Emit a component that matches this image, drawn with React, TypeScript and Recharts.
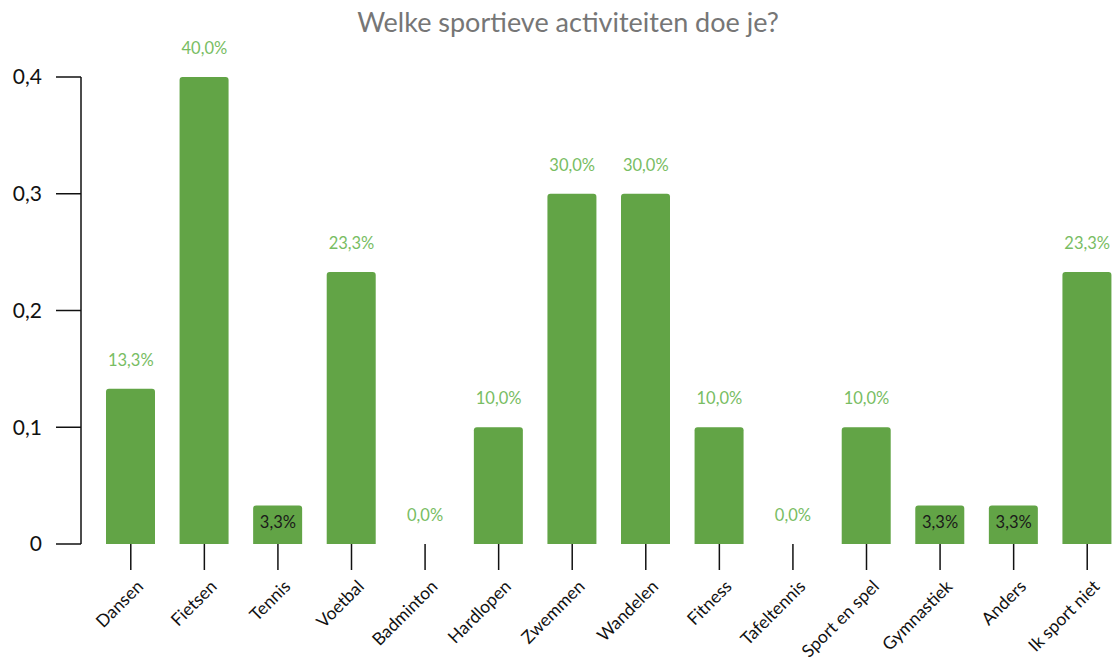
import React from "react";
import { ComposedChart, Bar, Line, XAxis, YAxis, LabelList } from "recharts";

const categories = [
  "Dansen", "Fietsen", "Tennis", "Voetbal", "Badminton", "Hardlopen", "Zwemmen",
  "Wandelen", "Fitness", "Tafeltennis", "Sport en spel", "Gymnastiek", "Anders", "Ik sport niet",
];
const values = [0.133, 0.4, 0.033, 0.233, 0, 0.1, 0.3, 0.3, 0.1, 0, 0.1, 0.033, 0.033, 0.233];
const yTicks = [0, 0.1, 0.2, 0.3, 0.4];
const title = "Welke sportieve activiteiten doe je?";

const data = categories.map((name, i) => ({ name, value: values[i] }));

const FONT = "Lato, 'Open Sans', sans-serif";
const BAR = "#62a446";
const LABEL_GREEN = "#78bd63";

const fmtPct = (v: number) => (v * 100).toFixed(1).replace(".", ",") + "%";

const ValueLabel = (props: any) => {
  const { x, y, value } = props;
  if (value > 0 && value < 0.05) {
    return (
      <text x={x} y={y + 17} textAnchor="middle" dominantBaseline="central" fill="#1a1a1a" fontSize={16.5} fontFamily={FONT}>
        {fmtPct(value)}
      </text>
    );
  }
  return (
    <text x={x} y={y - 29} textAnchor="middle" dominantBaseline="central" fill={LABEL_GREEN} fontSize={16.5} fontFamily={FONT}>
      {fmtPct(value)}
    </text>
  );
};

const XTick = (props: any) => {
  const { x, y, payload } = props;
  return (
    <g transform={`translate(${x + 9},${y + 11})`}>
      <text x={0} y={0} textAnchor="end" dominantBaseline="central" transform="rotate(-45)" fill="#111" fontSize={17.5} fontFamily={FONT}>
        {payload.value}
      </text>
    </g>
  );
};

export default function App() {
  return (
    <div style={{ position: "absolute", left: 0, top: 0, width: 1118, height: 664, overflow: "hidden", background: "#fff" }}>
      <div
        style={{
          position: "absolute",
          left: 0,
          top: 6,
          width: 1136,
          textAlign: "center",
          fontFamily: FONT,
          fontSize: 27,
          color: "#767676",
          lineHeight: "32px",
        }}
      >
        {title}
      </div>
      <ComposedChart width={1130} height={664} data={data} margin={{ top: 77, right: 6, bottom: 0, left: 0 }}>
        <YAxis
          domain={[0, 0.4]}
          ticks={yTicks}
          width={81}
          tickSize={25}
          tickMargin={14}
          stroke="#111"
          strokeWidth={1.5}
          tick={{ fill: "#111", fontSize: 21, fontFamily: FONT }}
          tickFormatter={(v: number) => String(v).replace(".", ",")}
        />
        <XAxis
          dataKey="name"
          interval={0}
          height={120}
          axisLine={false}
          tickSize={26}
          tickLine={{ stroke: "#111", strokeWidth: 1.5 }}
          padding={{ left: 13, right: 0 }}
          tick={<XTick />}
        />
        <Bar dataKey="value" fill={BAR} barSize={49} radius={[3, 3, 0, 0]} isAnimationActive={false} />
        <Line
          dataKey="value"
          stroke="none"
          dot={false}
          activeDot={false}
          legendType="none"
          isAnimationActive={false}
        >
          <LabelList dataKey="value" content={<ValueLabel />} />
        </Line>
      </ComposedChart>
    </div>
  );
}
